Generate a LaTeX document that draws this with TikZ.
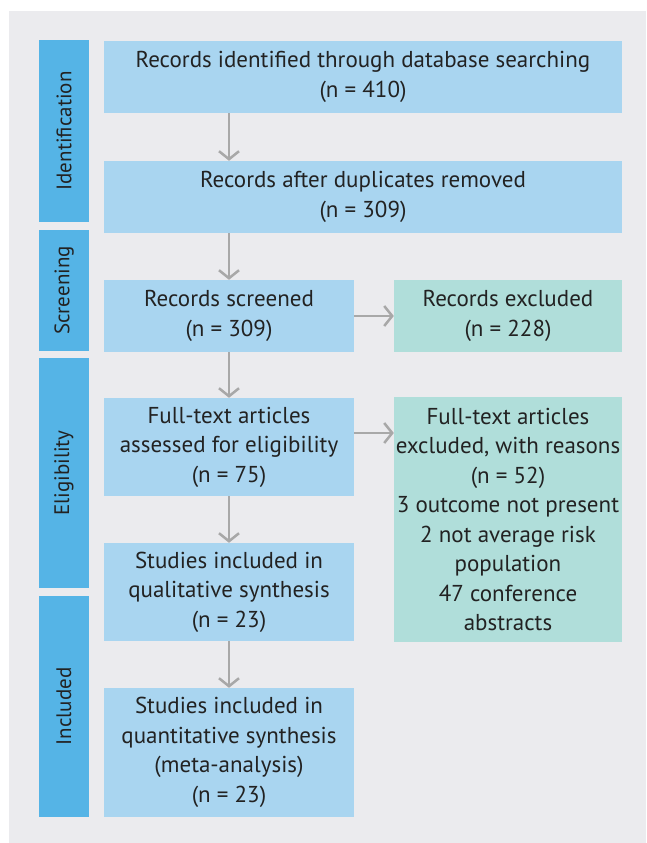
\documentclass[tikz,border=0pt]{standalone}
\usepackage{fontspec}
\setmainfont{PT Sans}
\usepackage{tikz}
\usepackage{xcolor}
\usetikzlibrary{
    arrows.meta,
    calc,
    positioning
}
\definecolor{bgray}{HTML}{EBEBEE}
\definecolor{barblue}{HTML}{55B4E6}
\definecolor{boxblue}{HTML}{A9D5F0}
\definecolor{boxteal}{HTML}{B0DEDA}
\definecolor{arrgray}{HTML}{A8A8A8}
\definecolor{txt}{HTML}{222222}
\tikzset{fbar/.style={fill=barblue, minimum width=50pt, inner sep=0pt, text=txt, rotate=90, font=\fontsize{21}{24}\selectfont},
         pbox/.style={fill=boxblue, inner sep=0pt, align=center, text=txt, font=\fontsize{23}{29.5}\selectfont},
         xbox/.style={pbox, fill=boxteal},
         arr/.style={draw=arrgray, line width=2.5pt, -{Straight Barb[length=8pt,width=20pt]}}}

\begin{document}
\begin{tikzpicture}[x=1pt, y=-1pt]
                                \useasboundingbox (0, 0) rectangle (646, 843);
                                \fill[bgray] (9, 11) rectangle (646, 843);
                                % phases
                                \node[fbar, minimum width=182pt, minimum height=50pt] (b1) at (64, 131) {Identification};
                                \node[fbar, minimum width=121pt, minimum height=50pt] (b2) at (64, 290.5) {Screening};
                                \node[fbar, minimum width=230pt, minimum height=50pt] (b3) at (64, 473) {Eligibility};
                                \node[fbar, minimum width=221pt, minimum height=50pt] (b4) at (64, 706.5) {Included};
                                % boxes
                                \node[pbox, minimum width=518pt, minimum height=72pt] (id1) at (363, 77) {Records identified through database searching\\(n = 410)};
                                \node[pbox, minimum width=518pt, minimum height=72pt] (id2) at (363, 197) {Records after duplicates removed\\(n = 309)};
                                \node[pbox, minimum width=250pt, minimum height=72pt] (sc) at (229, 316) {Records screened\\(n = 309)};
                                \node[xbox, minimum width=228pt, minimum height=72pt] (ex1) at (508, 316) {Records excluded\\(n = 228)};
                                \node[pbox, minimum width=250pt, minimum height=98pt] (ft) at (229, 447) {Full-text articles\\assessed for eligibility\\(n = 75)};
                                \node[xbox, minimum width=228pt, minimum height=245pt] (ex2) at (508, 519.5) {Full-text articles\\excluded, with reasons\\(n = 52)\\3 outcome not present\\2 not average risk\\population\\47 conference\\abstracts};
                                \node[pbox, minimum width=250pt, minimum height=98pt] (ql) at (229, 592) {Studies included in\\qualitative synthesis\\(n = 23)};
                                \node[pbox, minimum width=250pt, minimum height=129pt] (qn) at (229, 752.5) {Studies included in\\quantitative synthesis\\(meta-analysis)\\(n = 23)};
                                % arrows
                                \draw[arr] (id1.south -| sc.north) -- (id2.north -| sc.north);
                                \draw[arr] (id2.south -| sc.north) -- (sc.north);
                                \draw[arr] (sc) -- (ex1);
                                \draw[arr] (sc) -- (ft);
                                \draw[arr] ([yshift=14pt]ft.east) -- ([yshift=14pt]ft.east -| ex2.west);
                                \draw[arr] (ft) -- (ql);
                                \draw[arr] (ql) -- (qn);
                            \end{tikzpicture}
\end{document}
